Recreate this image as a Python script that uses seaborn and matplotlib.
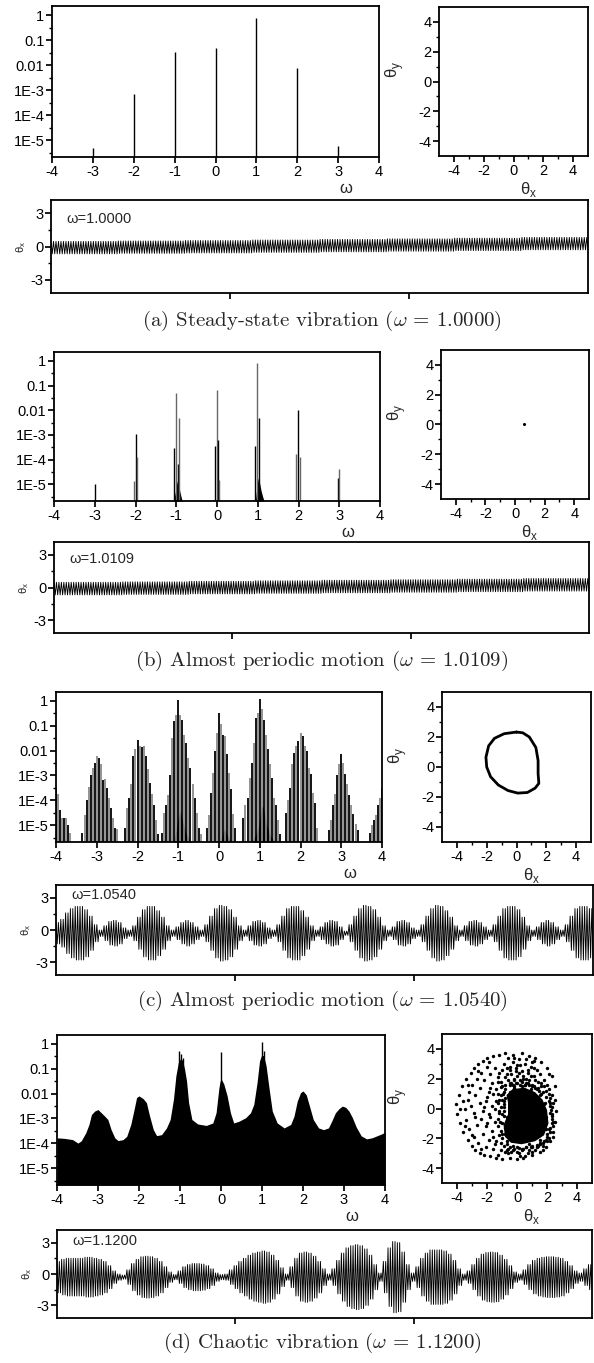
import numpy as np
import matplotlib
matplotlib.use("Agg")
import matplotlib.pyplot as plt
import seaborn as sns
from matplotlib.ticker import FixedLocator, FixedFormatter, NullFormatter

# ---------------- spectra (log10 of amplitude) ----------------
# (a) steady state: single lines at the harmonics
spec_a_w = [-3, -2, -1, 0, 1, 2, 3]
spec_a_logh = [-5.3, -3.15, -1.46, -1.33, -0.1, -2.13, -5.22]

# (b) main lines + side lines
spec_b_w = [-3.0, -2.04, -2.0, -1.97, -1.05, -1.0, -0.95, -0.93, -0.05, 0.0, 0.03, 0.05,
            0.93, 0.99, 1.03, 1.93, 1.98, 2.04, 2.96, 3.0]
spec_b_logh = [-5.0, -4.88, -2.96, -3.9, -3.53, -1.32, -4.17, -2.3, -3.43, -1.18, -3.19, -4.84,
               -3.43, -0.1, -2.3, -3.76, -2.0, -3.9, -4.73, -4.37]
# (b) small dark humps near -1 and +1
hump_b1_w = [-1.07, -1.02, -0.98, -0.96, -0.93, -0.89, -0.85]
hump_b1_logh = [-5.7, -5.3, -4.9, -4.85, -5.15, -5.45, -5.7]
hump_b2_w = [0.94, 0.98, 1.01, 1.04, 1.08, 1.12, 1.16]
hump_b2_logh = [-5.7, -5.1, -4.75, -4.9, -5.25, -5.5, -5.7]

# (c) side-band clusters around each integer, lines 0.05 apart
c_centers = [-4, -3, -2, -1, 0, 1, 2, 3, 4]
c_first = [0, -7, -6, -8, -6, -8, -7, -6, -6]
c_m4 = [-3.55, -3.75, -4.4, -4.7, -4.7, -4.7, -5.0, -5.3]
c_m3 = [-5.3, -4.6, -4.0, -3.45, -3.0, -2.7, -2.5, -2.2, -2.3, -2.55, -3.2, -3.15, -3.5, -3.9,
        -4.3, -4.7, -5.1, -5.15]
c_m2 = [-5.1, -4.3, -3.9, -3.35, -2.2, -1.95, -1.57, -1.8, -1.85, -1.8, -2.2, -2.75, -3.3,
        -3.75, -4.2, -4.8, -5.35]
c_m1 = [-5.3, -4.5, -4.2, -3.8, -3.0, -1.5, -0.8, -0.55, 0.05, -0.55, -0.75, -1.35, -1.7,
        -2.3, -2.7, -3.35, -3.9, -4.5, -5.1, -5.35]
c_0 = [-5.1, -4.6, -3.7, -2.9, -2.0, -1.27, -0.47, -0.94, -1.35, -1.4, -2.15, -2.9, -3.55,
       -4.55, -5.1]
c_1 = [-4.7, -4.2, -3.9, -3.1, -2.5, -1.7, -0.67, -0.47, 0.07, -0.33, -0.75, -1.35, -1.95,
       -2.55, -3.1, -3.9, -4.2, -4.8, -5.35]
c_2 = [-4.5, -4.0, -3.5, -2.55, -2.1, -1.8, -1.6, -1.27, -1.4, -1.8, -2.0, -2.7, -2.95, -3.7,
       -4.1, -5.1]
c_3 = [-5.2, -4.8, -4.2, -3.75, -3.0, -2.55, -2.15, -2.5, -2.95, -3.35, -3.8, -4.2, -4.55,
       -4.95, -5.2]
c_4 = [-5.3, -5.0, -4.8, -4.6, -4.2, -3.9, -3.5]
# (c) dark humps under the clusters
hump_c1_w = [-1.12, -1.05, -1.0, -0.95, -0.9, -0.82, -0.72, -0.66]
hump_c1_logh = [-5.7, -5.2, -4.7, -4.42, -4.8, -5.3, -5.6, -5.7]
hump_c2_w = [0.04, 0.1, 0.13, 0.2, 0.3]
hump_c2_logh = [-5.7, -5.3, -5.15, -5.4, -5.7]
hump_c3_w = [0.8, 0.9, 0.98, 1.04, 1.08, 1.15, 1.25, 1.38]
hump_c3_logh = [-5.7, -5.4, -5.0, -4.3, -4.22, -4.9, -5.4, -5.7]

# (d) broadband spectrum: upper envelope
spec_d_w = [-4.0, -3.82, -3.62, -3.49, -3.41, -3.30, -3.22, -3.16, -3.08, -3.0, -2.92, -2.84,
            -2.76, -2.68, -2.59, -2.51, -2.39, -2.30, -2.20, -2.12, -2.06, -2.0, -1.90, -1.82,
            -1.74, -1.65, -1.57, -1.45, -1.33, -1.24, -1.16, -1.10, -1.04, -0.99, -0.94, -0.89,
            -0.84, -0.79, -0.71, -0.57, -0.36, -0.20, -0.12, -0.05, -0.02, 0.02, 0.07, 0.15,
            0.23, 0.31, 0.44, 0.60, 0.72, 0.80, 0.88, 0.94, 0.99, 1.04, 1.10, 1.17, 1.25, 1.37,
            1.54, 1.70, 1.78, 1.86, 1.94, 2.0, 2.08, 2.17, 2.25, 2.38, 2.50, 2.62, 2.70, 2.79,
            2.88, 2.96, 3.04, 3.12, 3.20, 3.30, 3.42, 3.55, 3.68, 3.80, 3.92, 4.0]
spec_d_logh = [-3.78, -3.8, -3.85, -3.99, -3.9, -3.58, -3.24, -2.84, -2.7, -2.64, -2.77, -2.9,
               -3.04, -3.45, -3.78, -3.89, -3.85, -3.72, -3.24, -2.64, -2.16, -2.09, -2.2,
               -2.36, -2.91, -3.45, -3.69, -3.65, -3.38, -3.04, -2.23, -1.28, -0.74, -0.6,
               -0.65, -1.0, -1.49, -2.36, -3.04, -3.22, -3.28, -3.18, -2.77, -1.76, -1.49,
               -1.45, -1.62, -2.09, -2.77, -3.18, -3.11, -2.97, -2.77, -2.43, -1.55, -0.68,
               -0.45, -0.47, -0.88, -1.76, -2.7, -3.18, -3.38, -3.24, -2.91, -2.3, -1.96, -1.89,
               -2.05, -2.57, -3.04, -3.38, -3.45, -3.38, -3.11, -2.77, -2.6, -2.5, -2.55, -2.7,
               -2.95, -3.35, -3.7, -3.82, -3.78, -3.7, -3.62, -3.55]
spike_d_w = [-1.02, -0.97, -0.93, 0.0, 0.99, 1.04]
spike_d_logh = [-0.27, -0.4, -0.55, -0.34, 0.09, -0.3]

# ---------------- phase portraits ----------------
loop_c_x = [0.0, -0.83, -1.48, -1.87, -2.05, -2.0, -1.74, -1.22, -0.57, 0.08, 0.73, 1.25, 1.5,
            1.45, 1.45, 1.3, 0.86, 0.42, 0.0]
loop_c_y = [2.33, 2.22, 1.91, 1.41, 0.65, 0.0, -0.65, -1.2, -1.57, -1.74, -1.7, -1.41, -1.09,
            -0.43, 0.43, 1.3, 2.0, 2.28, 2.33]
point_b = (0.6, 0.0)

core_d_x = [-0.3, 0.5, 1.2, 1.7, 2.0, 2.1, 1.8, 1.2, 0.3, -0.4, -0.8, -0.9, -0.6, -0.6, -0.7]
core_d_y = [1.3, 1.4, 1.1, 0.6, -0.1, -1.0, -1.8, -2.2, -2.4, -2.3, -1.9, -1.1, -0.4, 0.4, 0.9]
scat_d_x = [-4.1, -4.0, -3.9, -3.8, -3.7, -3.6, -3.5, -3.4, -3.3, -3.2, -3.1, -3.0, -2.9, -2.8,
            -2.6, -2.5, -2.3, -2.2, -2.0, -1.8, -1.6, -1.4, -1.2, -1.0, -0.8, -0.5, -0.3, 0.0,
            0.3, 0.5, 0.8, 1.0, 1.2, 1.5, 1.6, 1.9, 2.0, 2.2, 2.3, 2.4, 2.5, 2.5, 2.5, 2.6,
            -3.4, -3.3, -3.2, -3.1, -3.0, -2.9, -2.9, -2.8, -2.7, -2.7, -2.6, -2.5, -2.5, -2.4,
            -2.4, -2.3, -2.2, -2.2, -2.1, -2.1, -2.0, -2.0, -1.9, -1.9, -1.8, -1.8, -1.7, -1.7,
            -1.6, -1.6, -1.5, -1.5, -1.4, -1.4, -1.3, -1.3, -1.2, -1.2, -1.1, -1.1, -1.0, -1.0,
            -0.9, -0.9, -0.8, -0.8, -0.7, -0.7, -0.6, -0.5,
            -0.4, -0.3, -0.2, -0.1, 0.0, 0.1, 0.2, 0.3, 0.4, 0.5, 0.6, 0.7, 0.8, 0.9, 1.0, 1.1,
            1.2, 1.3, 1.4, 1.5, 1.6, 1.8, 1.9, 2.0, 0.2, -0.5, 0.6, 1.0, -0.2, 0.3,
            -0.3, 0.1, 0.4, 0.7, 0.9, 1.2, 1.4, 1.7, -0.6, 0.2, 1.0, 1.9,
            2.1, 2.2, 2.3, 2.2, 2.0, 2.3, 2.4, 2.1,
            -0.8, -0.9, -0.8, -0.5, -0.2, 0.4, 0.9, 1.5, 1.8, 1.9, 1.9, 1.5, 0.8, 0.0, -0.7,
            -1.0, -1.1, -1.0,
            -2.3, -2.1, -2.0, -1.9, -1.8, -1.7, -1.6, -1.5, -1.5, -1.4, -1.3, -1.3, -1.2, -1.2,
            -1.1, -1.1, -1.0, -1.0, -0.9, -0.9, -0.8, -0.8, -0.7, -0.7, -0.6, -0.6, -0.5, -0.5,
            -0.4, -0.4,
            -0.3, -0.2, 0.0, 0.1, 0.2, 0.4, 0.5, 0.6, 0.8, 0.9, 1.1, 1.2, 1.4, 1.6, 1.7, 1.8,
            0.0, 0.7, 1.1, -0.1,
            2.2, 2.3, 2.3, 2.2, 2.0, 1.7, 2.4, 2.4, 2.1, 2.2,
            -0.2, 0.3, 0.6, 1.0, 1.3, -0.5, 0.0, 0.8, 1.5, 1.8,
            -3.6, -3.5, -3.3, -3.0, -2.6, -2.4, -1.9, -1.3, -0.6, 0.4, 1.1, 1.7, 2.1, 2.4,
            -3.8, -2.8]
scat_d_y = [0.3, -0.4, 0.9, -1.0, 1.5, -1.6, 0.0, 2.0, -2.1, 1.1, 2.4, -2.5, 2.7, -2.8,
            3.0, -3.0, 3.2, -3.1, 3.4, -3.2, 3.5, -3.3, 3.6, -3.4, 3.7, -3.3, 3.6, -3.4,
            3.7, -3.2, 3.5, -3.1, 3.4, -2.9, 3.1, -2.6, 2.7, -2.2, 2.2, -1.6, 1.5, -0.9, 0.6, -0.2,
            -0.8, 0.6, -1.4, 0.2, 1.6, -0.3, -1.9, 0.9, 2.0, -1.1, -2.3, 0.4, 1.4, -0.7,
            2.4, -1.7, 0.1, 1.9, -2.6, -1.2, 0.8, 2.8, -0.4, -2.1, 1.4, 2.3, 0.2, -1.5,
            -2.7, 1.0, -0.9, 2.7, 0.5, -2.2, 1.8, -1.2, -0.3, 2.4, -2.8, 0.9, -1.7, 1.5,
            3.0, 0.3, -2.9, 2.1, -0.6, 2.7, -3.0, 1.7,
            2.3, 3.1, 1.9, 2.7, 2.2, 3.3, 1.6, 2.5, 2.0, 3.0, 1.7, 2.4, 1.9, 2.8, 1.6, 2.2,
            1.4, 2.6, 1.8, 2.3, 1.5, 1.9, 1.2, 1.6, 2.9, 2.6, 3.3, 3.1, 3.4, 1.5,
            -2.8, -3.0, -2.7, -3.0, -2.6, -2.8, -2.5, -2.3, -2.7, -3.2, -2.9, -2.1,
            1.0, 0.4, -0.4, -1.3, -1.7, 0.9, -0.9, -2.0,
            -1.3, -0.2, 0.7, 1.1, 1.4, 1.3, 1.3, 0.9, 0.3, -0.6, -1.4, -2.1, -2.4, -2.6, -2.2,
            -1.0, 0.1, 0.6,
            -0.2, 0.5, -1.0, 1.1, -0.6, 1.7, -1.9, 0.0, -2.4, 1.3, -0.7, 2.1, 0.6, -1.8,
            -2.3, 1.8, -0.4, 2.6, 1.1, -2.5, -1.7, 1.6, 2.3, -2.8, 1.9, -1.1, 2.8, -0.2,
            1.7, -2.9,
            1.6, 2.0, 1.7, 2.4, 1.9, 2.2, 1.6, 2.0, 1.6, 2.2, 1.5, 1.9, 1.4, 1.7, 1.1, 1.5,
            2.9, 2.6, 2.7, 2.5,
            0.7, 0.1, -0.7, -1.6, -2.2, -2.5, 0.4, -1.2, 1.3, -0.3,
            -2.7, -2.8, -2.6, -2.6, -2.6, -2.6, -2.9, -2.8, -2.4, -2.2,
            0.5, -1.2, 1.6, -1.8, 2.5, -2.7, 3.1, -3.1, 3.4, -3.3, 3.2, -2.8, 2.3, -1.9,
            0.0, -0.6]
# points hugging the dense core
rim_d_x = [-0.5, -0.1, 0.3, 0.7, 1.0, 1.3, 1.6, 1.9, -0.2, 0.5, 1.45, 1.85,
           2.2, 2.3, 2.3, 2.15, 2.0, 2.25, 2.1,
           1.5, 1.0, 0.6, 0.1, -0.3, -0.7, 1.3, 0.35,
           -1.0, -1.1, -1.15, -0.9, -0.85, -0.9, -0.95, -0.8, -1.2, -1.25, -1.3, -1.05]
rim_d_y = [1.6, 1.7, 1.8, 1.7, 1.5, 1.3, 1.0, 0.8, 1.5, 1.55, 1.15, 0.35,
           0.2, -0.5, -1.0, -1.4, -1.9, -0.1, 0.5,
           -2.3, -2.5, -2.6, -2.65, -2.55, -2.4, -2.45, -2.75,
           -2.0, -1.5, -0.9, -0.5, 0.1, 0.5, 0.95, 1.3, -0.2, 0.4, 1.0, 1.45]

# ---------------- time series envelopes ----------------
# amplitude knots and centre-line knots, each knot spans an equal run of cycles
cycles = [216, 218, 224, 230]
amp_a = [0.56]
mid_a = [-0.1, -0.06, -0.02, 0.03, 0.08, 0.13, 0.19, 0.26]
amp_b = [0.58]
mid_b = [-0.1, -0.06, -0.01, 0.04, 0.09, 0.14, 0.19, 0.25]
amp_c = [1.0, 1.3, 1.9, 2.3, 2.5, 2.5, 2.2, 1.6, 0.8, 0.3, 0.7, 1.1, 1.2, 1.0, 0.5, 0.3,
         0.7, 1.5, 2.2, 2.5, 2.5, 2.1, 1.5, 0.7, 0.3, 0.6, 1.0, 1.2, 1.0, 0.6, 0.3,
         0.8, 1.6, 2.3, 2.6, 2.5, 2.2, 1.5, 0.7, 0.3, 0.7, 1.1, 1.2, 1.0, 0.5, 0.3,
         0.8, 1.6, 2.3, 2.5, 2.5, 2.1, 1.5, 0.7, 0.3, 0.6, 1.0, 1.2, 1.1, 0.6, 0.2,
         0.8, 1.6, 2.3, 2.6, 2.5, 2.2, 1.5, 0.7, 0.3, 0.6, 1.1, 1.2, 1.0, 0.5, 0.3,
         0.8, 1.6, 2.3, 2.6, 2.5, 2.1, 1.5, 0.7, 0.3, 0.7, 1.1, 1.2, 1.0, 0.6, 0.3,
         0.8, 1.6, 2.3, 2.5, 2.5, 2.2, 1.5, 0.7, 0.3, 0.6, 1.0, 1.2, 1.0, 0.6, 0.3,
         0.8, 1.6, 2.3, 2.5, 2.5, 2.3]
mid_c = [-0.3]
amp_d = [1.5, 1.7, 1.8, 1.8, 1.8, 1.8, 1.9, 1.9, 1.8, 1.7, 1.5, 1.1, 0.6, 0.3, 0.2,
         0.7, 1.3, 1.7, 1.95, 2.0, 1.95, 1.8, 1.5, 1.0, 0.5, 0.25,
         0.6, 1.0, 1.2, 1.3, 1.3, 1.25, 1.1, 0.8, 0.4, 0.25, 0.3,
         0.7, 1.1, 1.5, 1.8, 2.1, 2.3, 2.4, 2.5, 2.4, 2.1, 1.6, 0.9, 0.3,
         1.0, 1.8, 2.3, 2.4, 2.3, 2.0, 1.5, 0.8, 0.3,
         0.8, 1.6, 2.3, 2.8, 3.0, 3.1, 3.0, 2.7, 2.1, 1.2, 0.4,
         1.5, 2.8, 3.4, 3.3, 2.4, 1.2, 0.4,
         1.0, 1.8, 2.3, 2.6, 2.6, 2.6, 2.5, 2.2, 1.6, 0.8, 0.3,
         0.6, 1.2, 1.8, 2.2, 2.35, 2.4, 2.35, 2.1, 1.7, 1.1, 0.5, 0.3,
         0.7, 1.2, 1.6, 1.8, 1.9, 1.95, 1.95, 1.9, 1.8, 1.5, 1.1, 0.6, 0.4, 0.8, 1.2]
mid_d = [-0.3]

omega_text = ['1.0000', '1.0109', '1.0540', '1.1200']
omega_text_y = [0.8, 0.81, 0.89, 0.88]
captions = ['(a) Steady-state vibration', '(b) Almost periodic motion',
            '(c) Almost periodic motion', '(d) Chaotic vibration']

# ---------------- style ----------------
sns.set_theme(style="ticks")
plt.rcParams['font.family'] = ['Liberation Sans', 'DejaVu Sans']
plt.rcParams['axes.unicode_minus'] = False
plt.rcParams['mathtext.fontset'] = 'dejavusans'
plt.rcParams['axes.linewidth'] = 1.3
plt.rcParams['axes.edgecolor'] = 'black'
plt.rcParams['xtick.color'] = 'black'
plt.rcParams['ytick.color'] = 'black'
plt.rcParams['xtick.major.size'] = 4
plt.rcParams['ytick.major.size'] = 4
plt.rcParams['xtick.minor.size'] = 2.5
plt.rcParams['ytick.minor.size'] = 2.5
plt.rcParams['xtick.major.pad'] = 1.5
plt.rcParams['ytick.major.pad'] = 1.5
TICK_FS = 10.5
YMIN, YMAX = 2.1e-6, 2.3

W, H = 594, 1363
fig = plt.figure(figsize=(W / 100, H / 100), dpi=100)


def box(x0, x1, y0, y1):
    return fig.add_axes([x0 / W, 1 - y1 / H, (x1 - x0) / W, (y1 - y0) / H])


def spectrum_axes(ax):
    ax.set_yscale('log')
    ax.set_xlim(-4, 4)
    ax.set_ylim(YMIN, YMAX)
    ax.yaxis.set_major_locator(FixedLocator([1e-5, 1e-4, 1e-3, 1e-2, 1e-1, 1]))
    ax.yaxis.set_major_formatter(FixedFormatter(['1E-5', '1E-4', '1E-3', '0.01', '0.1', '1']))
    ax.yaxis.set_minor_locator(FixedLocator([10 ** (e + 0.5) for e in range(-6, 1)]))
    ax.yaxis.set_minor_formatter(NullFormatter())
    ax.set_xticks(range(-4, 5))
    ax.set_xticklabels([str(i) for i in range(-4, 5)])
    ax.tick_params(labelsize=TICK_FS)
    ax.set_xlabel('ω', fontsize=12)
    ax.xaxis.set_label_coords(0.9, -0.16)


def phase_axes(ax):
    ax.set_xlim(-5, 5)
    ax.set_ylim(-5, 5)
    ax.set_xticks([-4, -2, 0, 2, 4])
    ax.set_yticks([-4, -2, 0, 2, 4])
    ax.xaxis.set_minor_locator(FixedLocator([-3, -1, 1, 3]))
    ax.yaxis.set_minor_locator(FixedLocator([-3, -1, 1, 3]))
    ax.tick_params(labelsize=TICK_FS)
    ax.set_xlabel('θ$_\\mathregular{x}$', fontsize=12)
    ax.set_ylabel('θ$_\\mathregular{y}$', fontsize=12)
    ax.xaxis.set_label_coords(0.6, -0.16)
    ax.yaxis.set_label_coords(-0.22, 0.58)


def time_axes(ax, k):
    ax.set_xlim(0, 3)
    ax.set_ylim(-4.2, 4.2)
    ax.set_xticks([1, 2])
    ax.set_xticklabels(['', ''])
    ax.set_yticks([-3, 0, 3])
    ax.yaxis.set_minor_locator(FixedLocator([-1.5, 1.5]))
    ax.tick_params(labelsize=TICK_FS)
    ax.set_ylabel('θ$_\\mathregular{x}$', fontsize=8, labelpad=2)
    ax.text(0.028, omega_text_y[k], 'ω=' + omega_text[k], transform=ax.transAxes,
            fontsize=10.5, va='center', ha='left')


def draw_series(ax, amp, mid, n):
    ia = np.arange(n) * len(amp) // n
    im = np.arange(n) * len(mid) // n
    a = np.asarray(amp, float)[ia]
    m = np.asarray(mid, float)[im]
    y = np.empty(2 * n)
    y[0::2] = m + a
    y[1::2] = m - a
    t = np.linspace(0, 3, 2 * n)
    sns.lineplot(x=t, y=y, ax=ax, color='black', lw=0.65, sort=False, estimator=None)


def draw_lines(ax, w, logh, lw=0.9, colors=('black',)):
    h = 10 ** np.asarray(logh, float)
    cols = [colors[i % len(colors)] for i in range(len(w))]
    ax.vlines(w, YMIN, h, colors=cols, lw=lw)


def draw_hump(ax, w, logh):
    ax.fill_between(w, YMIN, 10 ** np.asarray(logh, float), color='black', lw=0)


layout = [
    ((52, 379, 6, 157), (439, 588, 7, 156), (51, 588, 200, 293), 321),
    ((54, 380, 352, 501), (441, 589, 350, 499), (54, 589, 542, 633), 661),
    ((56, 382, 692, 842), (442, 591, 692, 842), (56, 593, 885, 975), 1001),
    ((57, 385, 1035, 1185), (442, 592, 1034, 1183), (57, 592, 1230, 1318), 1343),
]

amps = [amp_a, amp_b, amp_c, amp_d]
mids = [mid_a, mid_b, mid_c, mid_d]

for k, (sb, pb, tb, cap_y) in enumerate(layout):
    ax_s = box(*sb)
    ax_p = box(*pb)
    ax_t = box(*tb)

    if k == 0:
        draw_lines(ax_s, spec_a_w, spec_a_logh, lw=1.0)
    elif k == 1:
        draw_lines(ax_s, spec_b_w, spec_b_logh, lw=1.0, colors=('black', '#666666'))
        draw_hump(ax_s, hump_b1_w, hump_b1_logh)
        draw_hump(ax_s, hump_b2_w, hump_b2_logh)
        ax_p.scatter([point_b[0]], [point_b[1]], s=5, color='black', lw=0)
    elif k == 2:
        for cen, k0, hs in zip(c_centers, c_first,
                               [c_m4, c_m3, c_m2, c_m1, c_0, c_1, c_2, c_3, c_4]):
            w = cen + (k0 + np.arange(len(hs))) * 0.05
            draw_lines(ax_s, w, hs, lw=1.3, colors=('black', '#8a8a8a'))
        draw_hump(ax_s, hump_c1_w, hump_c1_logh)
        draw_hump(ax_s, hump_c2_w, hump_c2_logh)
        draw_hump(ax_s, hump_c3_w, hump_c3_logh)
        sns.lineplot(x=loop_c_x, y=loop_c_y, ax=ax_p, color='black', lw=2.0,
                     sort=False, estimator=None)
    else:
        draw_hump(ax_s, spec_d_w, spec_d_logh)
        draw_lines(ax_s, spike_d_w, spike_d_logh, lw=1.0)
        ax_p.fill(core_d_x, core_d_y, color='black', lw=0)
        sns.scatterplot(x=scat_d_x + rim_d_x, y=scat_d_y + rim_d_y, ax=ax_p, s=6,
                        color='black', linewidth=0)

    spectrum_axes(ax_s)
    phase_axes(ax_p)
    draw_series(ax_t, amps[k], mids[k], cycles[k])
    time_axes(ax_t, k)

    fig.text(322 / W, 1 - cap_y / H, captions[k] + ' ($\\omega$ = ' + omega_text[k] + ')',
             ha='center', va='center', fontsize=15, family='cmr10', math_fontfamily='cm')

fig.savefig('out.png', dpi=100)
